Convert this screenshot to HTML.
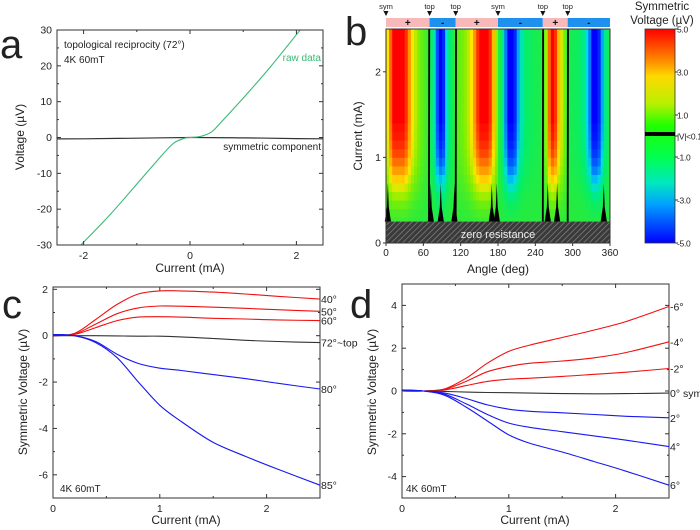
<!DOCTYPE html>
<html><head><meta charset="utf-8"><style>
html,body{margin:0;padding:0;background:#fff;}
svg{display:block;font-family:"Liberation Sans",sans-serif;}
</style></head><body>
<svg id="fig" width="700" height="530" viewBox="0 0 700 530" xmlns="http://www.w3.org/2000/svg">
<defs>
<pattern id="hatch" width="4" height="4" patternUnits="userSpaceOnUse" patternTransform="rotate(45)">
<rect width="4" height="4" fill="#3a3a3a"/><line x1="0" y1="0" x2="0" y2="4" stroke="#8a8a8a" stroke-width="1.3"/>
</pattern>
<linearGradient id="cbar" x1="0" y1="0" x2="0" y2="1">
<stop offset="0" stop-color="#ff0000"/><stop offset="0.15" stop-color="#ff8c00"/><stop offset="0.22" stop-color="#ffd800"/>
<stop offset="0.35" stop-color="#b8f000"/><stop offset="0.45" stop-color="#20ff00"/><stop offset="0.6" stop-color="#00ff50"/>
<stop offset="0.72" stop-color="#00e8c0"/><stop offset="0.82" stop-color="#00a0ff"/><stop offset="1" stop-color="#0000ff"/>
</linearGradient>
</defs>
<g id="root"></g>
</svg>
<script>
// ---------- Panel a data ----------
const aRawI = [-2.05,-1.5,-1,-0.5,-0.3,-0.1,0,0.2,0.4,0.6,1,1.5,2.07];
const aRawV = [-30,-21.5,-13,-4.5,-1.5,-0.2,0,0.3,1.5,4.5,11,19.5,30];
const aSymI = [-2.5,-2,-1,0,1,2,2.5];
const aSymV = [-0.4,-0.35,-0.2,0,-0.1,-0.3,-0.35];
const aXTicks = [-2,0,2];
const aYTicks = [-30,-20,-10,0,10,20,30];
// ---------- Panel c data ----------
const cI = [0,0.2,0.4,0.6,0.8,1.0,1.2,1.5,1.8,2.1,2.5];
const c40 = [0,0.1,0.7,1.35,1.8,1.93,1.93,1.88,1.8,1.7,1.58];
const c50 = [0,0.07,0.5,0.95,1.2,1.28,1.27,1.23,1.18,1.12,1.05];
const c60 = [0,0.05,0.35,0.65,0.8,0.82,0.8,0.75,0.72,0.68,0.65];
const c72 = [0,0,0,-0.01,-0.02,-0.02,-0.05,-0.12,-0.2,-0.25,-0.3];
const c80 = [0.05,0,-0.25,-0.8,-1.2,-1.4,-1.5,-1.68,-1.85,-2.05,-2.3];
const c85 = [0.05,0,-0.3,-0.95,-2.0,-3.0,-3.7,-4.6,-5.2,-5.75,-6.45];
const cLabels = ["40°","50°","60°","72°~top","80°","85°"];
const cXTicks = [0,1,2];
const cYTicks = [2,0,-2,-4,-6];
// ---------- Panel d data ----------
const dI = [0,0.2,0.4,0.6,0.8,1.0,1.2,1.5,1.8,2.1,2.5];
const dm6 = [0,0,0.1,0.6,1.3,1.85,2.15,2.5,2.85,3.25,3.95];
const dm4 = [0,0,0.08,0.45,0.9,1.15,1.3,1.4,1.55,1.8,2.3];
const dm2 = [0,0,0.05,0.25,0.45,0.55,0.6,0.68,0.78,0.88,1.05];
const d0 = [0.03,0,-0.02,-0.05,-0.07,-0.08,-0.1,-0.12,-0.13,-0.12,-0.1];
const dp2 = [0.05,0,-0.1,-0.35,-0.65,-0.85,-0.95,-1.02,-1.1,-1.18,-1.25];
const dp4 = [0.05,0,-0.15,-0.6,-1.1,-1.5,-1.7,-1.9,-2.1,-2.3,-2.6];
const dp6 = [0.05,0,-0.2,-0.75,-1.4,-2.05,-2.45,-2.85,-3.3,-3.75,-4.4];
const dLabels = ["-6°","-4°","-2°","0° sym","2°","4°","6°"];
const dXTicks = [0,1,2];
const dYTicks = [4,2,0,-2,-4];
// ---------- Panel b data ----------
const bPeak = [2.5,4,5,5,5,5,4.5,3.5,2.5,1.8,1.2,0.8,0.5,0.2,
 -0.8,-2,-4,-5,-4.5,-2.5,-1.2,-0.5,
 0.3,0.8,1,1.3,1.8,2.5,3.5,4.5,5,5,5,4.5,3,1.5,
 -0.3,-1.5,-3.5,-5,-5,-4.5,-3,-2,-1.3,-1,-0.8,-0.6,-0.5,-0.3,
 0.5,1.5,4,5,4.5,3,2,1,
 -0.3,-0.5,-0.7,-0.8,-1,-1.5,-2.5,-3.5,-5,-5,-4.5,-3,-1.5,-0.5];
const bRowI = [0.25,0.35,0.45,0.55,0.65,0.75,0.85,0.95,1.05,1.15,1.25,1.35,1.45,1.55,1.65,1.75,1.85,1.95,2.05,2.15,2.25,2.35,2.45];
const bOnset = [0.05,0.1,0.18,0.3,0.43,0.56,0.68,0.78,0.86,0.91,0.95,0.97,1,1,1,1,1,1,1,1,1,1,1];
const bZeroLines = [69,112,252,292];
const bBlobs = [3,72,88,110,170,178,260,275,350];
const bMarkAng = [0,70,112,180,252,292];
const bMarkLab = ["sym","top","top","sym","top","top"];
const bSegStart = [0,70,112,180,252,292];
const bSegEnd = [70,112,180,252,292,360];
const bSegSign = ["+","-","+","-","+","-"];
const bXTicks = [0,60,120,180,240,300,360];
const bYTicks = [0,1,2];
const cbTicks = ["5.0","3.0","1.0","|V|<0.1","-1.0","-3.0","-5.0"];

const NS="http://www.w3.org/2000/svg";
const root=document.getElementById('root');
function el(tag,attrs,parent,text){const e=document.createElementNS(NS,tag);for(const k in attrs)e.setAttribute(k,attrs[k]);if(text!==undefined)e.textContent=text;(parent||root).appendChild(e);return e;}
function lin(d0,d1,r0,r1){return v=>r0+(v-d0)/(d1-d0)*(r1-r0);}
function smoothPath(pts){let d='M'+pts[0][0].toFixed(1)+','+pts[0][1].toFixed(1);
 for(let i=0;i<pts.length-1;i++){const p0=pts[i-1]||pts[i],p1=pts[i],p2=pts[i+1],p3=pts[i+2]||p2;
 const c1=[p1[0]+(p2[0]-p0[0])/6,p1[1]+(p2[1]-p0[1])/6],c2=[p2[0]-(p3[0]-p1[0])/6,p2[1]-(p3[1]-p1[1])/6];
 d+=` C${c1[0].toFixed(1)},${c1[1].toFixed(1)} ${c2[0].toFixed(1)},${c2[1].toFixed(1)} ${p2[0].toFixed(1)},${p2[1].toFixed(1)}`;}return d;}
function frame(x0,y0,x1,y1,name){const r=el('rect',{x:x0,y:y0,width:x1-x0,height:y1-y0,fill:'none',stroke:'#333','stroke-width':1});
 }
function txt(x,y,s,opts,name){const t=el('text',Object.assign({x:x,y:y,'font-size':11,fill:'#222'},opts||{}),root,s);
 return t;}
function axes(X,Y,xt,yt,x0,y0,x1,y1,pfx,xMinor,yMinor){
 xt.forEach(v=>{const x=X(v);el('line',{x1:x,y1:y1,x2:x,y2:y1-4,stroke:'#333'});el('line',{x1:x,y1:y0,x2:x,y2:y0+4,stroke:'#333'});
  txt(x,y1+14,String(v),{'text-anchor':'middle','font-size':10.5},pfx+'-x-tick-label');});
 yt.forEach(v=>{const y=Y(v);el('line',{x1:x0,y1:y,x2:x0+4,y2:y,stroke:'#333'});el('line',{x1:x1,y1:y,x2:x1-4,y2:y,stroke:'#333'});
  txt(x0-5,y+3.5,String(v),{'text-anchor':'end','font-size':10.5},pfx+'-y-tick-label');});
 (xMinor||[]).forEach(v=>{const x=X(v);el('line',{x1:x,y1:y1,x2:x,y2:y1-2,stroke:'#333'});el('line',{x1:x,y1:y0,x2:x,y2:y0+2,stroke:'#333'});});
 (yMinor||[]).forEach(v=>{const y=Y(v);el('line',{x1:x0,y1:y,x2:x0+2,y2:y,stroke:'#333'});el('line',{x1:x1,y1:y,x2:x1-2,y2:y,stroke:'#333'});});
}
function series(X,Y,xs,ys,color,name,w){const p=el('path',{d:smoothPath(xs.map((x,i)=>[X(x),Y(ys[i])])),fill:'none',stroke:color,'stroke-width':w||1.1});
 }

// ===== Panel a =====
(function(){const x0=57,x1=323,y0=30,y1=245;const X=lin(-2.5,2.5,x0,x1),Y=lin(-30,30,y1,y0);
 const cp=el('clipPath',{id:'clipa'});el('rect',{x:x0,y:y0,width:x1-x0,height:y1-y0},cp);
 const g=el('g',{'clip-path':'url(#clipa)'});
 const p1=el('path',{d:smoothPath(aSymI.map((x,i)=>[X(x),Y(aSymV[i])])),fill:'none',stroke:'#333','stroke-width':1.2},g);
 
 const p2=el('path',{d:smoothPath(aRawI.map((x,i)=>[X(x),Y(aRawV[i])])),fill:'none',stroke:'#3cb878','stroke-width':1.1},g);
 
 frame(x0,y0,x1,y1,'panel-a-frame');
 axes(X,Y,aXTicks,aYTicks,x0,y0,x1,y1,'a',[-1,1],[-25,-15,-5,5,15,25]);
 txt(190,272,'Current (mA)',{'text-anchor':'middle','font-size':12},'a-x-axis-title');
 txt(24,137,'Voltage (µV)',{'text-anchor':'middle','font-size':12,transform:'rotate(-90 24 137)'},'a-y-axis-title');
 txt(64,48,'topological reciprocity (72°)',{'font-size':10},'a-annotation-title');
 txt(64,63,'4K 60mT',{'font-size':10},'a-annotation-conditions');
 txt(321,61,'raw data',{'font-size':10,'text-anchor':'end',fill:'#3cb878'},'raw-data-label');
 txt(321,150,'symmetric component',{'font-size':10,'text-anchor':'end'},'symmetric-component-label');
 txt(0,58,'a',{'font-size':40},'panel-a-letter');
})();

// ===== Panel b =====
(function(){const x0=386,x1=610,y0=29,y1=243;const X=lin(0,360,x0,x1),Y=lin(0,2.5,y1,y0);
 function cmap(v){const st=[[-5,[0,0,255]],[-3.5,[0,120,255]],[-2.5,[0,220,230]],[-1.2,[0,238,110]],[0,[40,235,60]],[1.2,[130,240,0]],[2.5,[255,230,0]],[3.6,[255,140,0]],[5,[255,0,0]]];
  v=Math.max(-5,Math.min(5,v));for(let i=0;i<st.length-1;i++){if(v<=st[i+1][0]){const t=(v-st[i][0])/(st[i+1][0]-st[i][0]);const a=st[i][1],b=st[i+1][1];
  return `rgb(${Math.round(a[0]+t*(b[0]-a[0]))},${Math.round(a[1]+t*(b[1]-a[1]))},${Math.round(a[2]+t*(b[2]-a[2]))})`;}}return 'rgb(255,0,0)';}
 const g=el('g',{});
 const w=360/bPeak.length;
 bRowI.forEach((ci,r)=>{const ya=Y(ci+0.05),yb=Y(ci-0.05);
  bPeak.forEach((v,c)=>{const xa=X(c*w),xb=X((c+1)*w);
   const cell=el('rect',{x:xa.toFixed(2),y:ya.toFixed(2),width:(xb-xa+0.4).toFixed(2),height:(yb-ya+0.4).toFixed(2),fill:cmap(v*bOnset[r])},g);
   });});
 bBlobs.forEach(a=>{const b=el('path',{d:`M${X(a-5)},${Y(0.25)} L${X(a+5)},${Y(0.25)} L${X(a+1.5)},${Y(0.42)} L${X(a)},${Y(0.7)} L${X(a-1.5)},${Y(0.42)} Z`,fill:'#000'});
  });
 bZeroLines.forEach(a=>{const l=el('line',{x1:X(a),y1:Y(0.25),x2:X(a+0.5),y2:Y(2.5),stroke:'#000','stroke-width':1.8});
  });
 const z=el('rect',{x:x0,y:Y(0.25),width:x1-x0,height:y1-Y(0.25),fill:'url(#hatch)'});
 
 txt((x0+x1)/2,238,'zero resistance',{'text-anchor':'middle','font-size':11,fill:'#eee'},'zero-resistance-label');
 frame(x0,y0,x1,y1,'panel-b-frame');
 bXTicks.forEach(v=>{const x=X(v);el('line',{x1:x,y1:y1,x2:x,y2:y1+3,stroke:'#333'});txt(x,y1+13,String(v),{'text-anchor':'middle','font-size':10},'b-x-tick-label');});
 bYTicks.forEach(v=>{const y=Y(v);el('line',{x1:x0,y1:y,x2:x0-3,y2:y,stroke:'#333'});txt(x0-5,y+3.5,String(v),{'text-anchor':'end','font-size':10.5},'b-y-tick-label');});
 bSegStart.forEach((s,i)=>{const r=el('rect',{x:X(s),y:18,width:X(bSegEnd[i])-X(s),height:9,fill:bSegSign[i]==='+'?'#f7b9b9':'#1e90ee'});
  
  txt((X(s)+X(bSegEnd[i]))/2,26,bSegSign[i],{'text-anchor':'middle','font-size':10,'font-weight':'bold',fill:'#111'},'sign-label');});
 bMarkAng.forEach((a,i)=>{const x=X(a);el('path',{d:`M${x-2.5},${11} L${x+2.5},${11} L${x},${16} Z`,fill:'#111'});
  txt(x,9,bMarkLab[i],{'text-anchor':'middle','font-size':7.5},'orientation-marker-label');});
 txt(498,273,'Angle (deg)',{'text-anchor':'middle','font-size':12},'b-x-axis-title');
 txt(362,136,'Current (mA)',{'text-anchor':'middle','font-size':12,transform:'rotate(-90 362 136)'},'b-y-axis-title');
 txt(345,45,'b',{'font-size':40},'panel-b-letter');
 const cb=el('rect',{x:645,y:29,width:30,height:214,fill:'url(#cbar)',stroke:'#333','stroke-width':0.8});
 
 el('rect',{x:645,y:132,width:30,height:4,fill:'#000'});
 const cy=[29,72,115,136,157,200,243];
 cbTicks.forEach((s,i)=>{el('line',{x1:675,y1:cy[i],x2:678,y2:cy[i],stroke:'#333'});txt(677,cy[i]+3.5,s,{'font-size':8.5,'letter-spacing':'-0.3'},'colorbar-tick-label');});
 txt(662,10,'Symmetric',{'text-anchor':'middle','font-size':11.5},'colorbar-title-line1');
 txt(662,24,'Voltage (µV)',{'text-anchor':'middle','font-size':11.5},'colorbar-title-line2');
})();

// ===== Panel c =====
(function(){const x0=53,x1=320,y0=287,y1=498;const X=lin(0,2.5,x0,x1),Y=lin(-7,2.1,y1,y0);
 frame(x0,y0,x1,y1,'panel-c-frame');
 axes(X,Y,cXTicks,cYTicks,x0,y0,x1,y1,'c',[0.5,1.5],[1,-1,-3,-5]);
 const ser=[c40,c50,c60,c72,c80,c85],col=['#f01010','#f01010','#f01010','#333','#1818f0','#1818f0'];
 const names=['line-40deg','line-50deg','line-60deg','line-72deg','line-80deg','line-85deg'];
 ser.forEach((s,i)=>{series(X,Y,cI,s,col[i],names[i]);
  txt(x1+1,Y(s[s.length-1])+4,cLabels[i],{'font-size':10.5,fill:'#222'},'c-curve-label');});
 txt(60,492,'4K 60mT',{'font-size':10},'c-annotation-conditions');
 txt(186,524,'Current (mA)',{'text-anchor':'middle','font-size':12},'c-x-axis-title');
 txt(27,392,'Symmetric Voltage (µV)',{'text-anchor':'middle','font-size':12,transform:'rotate(-90 27 392)'},'c-y-axis-title');
 txt(2,318,'c',{'font-size':40},'panel-c-letter');
})();

// ===== Panel d =====
(function(){const x0=402,x1=669,y0=284,y1=498;const X=lin(0,2.5,x0,x1),Y=lin(-5,5,y1,y0);
 frame(x0,y0,x1,y1,'panel-d-frame');
 axes(X,Y,dXTicks,dYTicks,x0,y0,x1,y1,'d',[0.5,1.5],[3,1,-1,-3]);
 const ser=[dm6,dm4,dm2,d0,dp2,dp4,dp6],col=['#f01010','#f01010','#f01010','#333','#1818f0','#1818f0','#1818f0'];
 const names=['line-minus6deg','line-minus4deg','line-minus2deg','line-0deg','line-2deg','line-4deg','line-6deg'];
 ser.forEach((s,i)=>{series(X,Y,dI,s,col[i],names[i]);
  txt(x1+1,Y(s[s.length-1])+4,dLabels[i],{'font-size':10.5,fill:'#222'},'d-curve-label');});
 txt(406,492,'4K 60mT',{'font-size':10},'d-annotation-conditions');
 txt(535,524,'Current (mA)',{'text-anchor':'middle','font-size':12},'d-x-axis-title');
 txt(376,392,'Symmetric Voltage (µV)',{'text-anchor':'middle','font-size':12,transform:'rotate(-90 376 392)'},'d-y-axis-title');
 txt(350,318,'d',{'font-size':40},'panel-d-letter');
})();
</script>
</body></html>
